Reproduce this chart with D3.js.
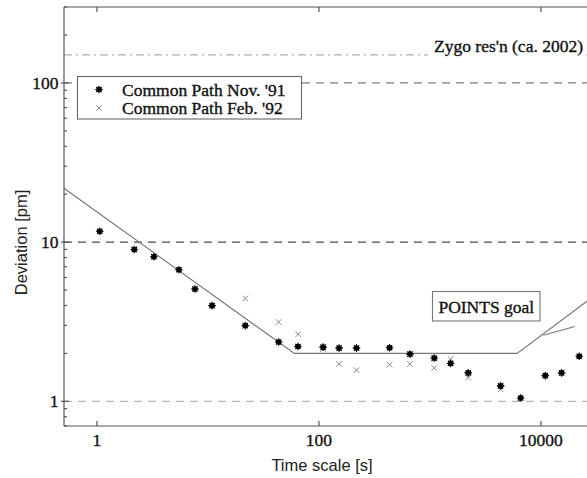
<!DOCTYPE html>
<html><head><meta charset="utf-8">
<script src="https://cdn.jsdelivr.net/npm/d3@7"></script>
<style>body{margin:0;background:#fff}svg{display:block}.sf{stroke:#111;stroke-width:0.35px}</style>
</head><body><svg id="c" width="587" height="478"></svg>
<script>
// Data
const tauNov = [1.06, 2.17, 3.26, 5.48, 7.64, 10.9, 21.7, 43.4, 64.7, 109, 152, 218, 433, 661, 1093, 1536, 2213, 4333, 6564, 10940, 15360, 22130];
const devNov = [11.7, 9.0, 8.1, 6.71, 5.08, 3.99, 2.99, 2.36, 2.21, 2.19, 2.16, 2.16, 2.17, 1.98, 1.87, 1.73, 1.51, 1.25, 1.05, 1.45, 1.51, 1.92];
const tauFeb = [21.7, 43.4, 65, 109, 152, 218, 433, 661, 1093, 1536, 2213, 4333];
const devFeb = [4.43, 3.15, 2.64, 2.13, 1.72, 1.57, 1.70, 1.72, 1.62, 1.84, 1.41, 1.19];
const goalTau = [0.5, 60, 6100, 30000];
const goalDev = [21.9, 2, 2, 4.58];
const branchTau = [10500, 20200];
const branchDev = [2.6, 2.95];
const refLevels = [100, 10, 1];
const zygoLevel = 150;
const xTicks = [1, 100, 10000];
const yTicks = [1, 10, 100];
const legendLabels = ["Common Path Nov. '91", "Common Path Feb. '92"];

const svg = d3.select("#c");
const L = 64, R = 587, T = 7, B = 426;
const x = d3.scaleLog().domain([0.505, 26000]).range([L, R]);
const y = d3.scaleLog().domain([0.70, 300]).range([B, T]);
const serif = "'Liberation Serif','Times New Roman',serif";
const sans = "'Liberation Sans',Arial,sans-serif";

svg.append("clipPath").attr("id","clip").append("rect").attr("x",L).attr("y",T).attr("width",R-L).attr("height",B-T);
const plot = svg.append("g").attr("clip-path","url(#clip)");

// reference dashed lines
const refColors = {100:"#808080",10:"#4a4a4a",1:"#b5b5b5"};
plot.selectAll("line.ref").data(refLevels).enter().append("line")
  .attr("x1",L).attr("x2",R).attr("y1",d=>y(d)).attr("y2",d=>y(d))
  .attr("stroke",d=>refColors[d]).attr("stroke-width",1.3).attr("stroke-dasharray","8,6");
plot.append("line").attr("x1",L).attr("x2",R).attr("y1",y(zygoLevel)).attr("y2",y(zygoLevel))
  .attr("stroke","#b0b0b0").attr("stroke-width",1.1).attr("stroke-dasharray","8,4,2,4");

// goal line
const line = d3.line().x(d=>x(d[0])).y(d=>y(d[1]));
plot.append("path").datum(goalTau.map((t,i)=>[t,goalDev[i]])).attr("d",line)
  .attr("fill","none").attr("stroke","#777").attr("stroke-width",1.1);
plot.append("path").datum(branchTau.map((t,i)=>[t,branchDev[i]])).attr("d",line)
  .attr("fill","none").attr("stroke","#777").attr("stroke-width",1.1);

// markers
function star(g, cx, cy){
  g.append("circle").attr("cx",cx).attr("cy",cy).attr("r",2.8).attr("fill","#000");
  const p = d3.path();
  for(let k=0;k<4;k++){const a=k*Math.PI/4;p.moveTo(cx-3.8*Math.cos(a),cy-3.8*Math.sin(a));p.lineTo(cx+3.8*Math.cos(a),cy+3.8*Math.sin(a));}
  g.append("path").attr("d",p.toString()).attr("stroke","#000").attr("stroke-width",1.1);
}
function cross(g, cx, cy){
  const p = d3.path();
  p.moveTo(cx-2.8,cy-2.8);p.lineTo(cx+2.8,cy+2.8);p.moveTo(cx-2.8,cy+2.8);p.lineTo(cx+2.8,cy-2.8);
  g.append("path").attr("d",p.toString()).attr("stroke","#888").attr("stroke-width",1).attr("fill","none");
}
const mk = plot.append("g");
tauFeb.forEach((t,i)=>cross(mk, x(t), y(devFeb[i])));
tauNov.forEach((t,i)=>star(mk, x(t), y(devNov[i])));

// Zygo label
svg.append("rect").attr("x",428).attr("y",38).attr("width",157).attr("height",18).attr("fill","#fff");
svg.append("text").attr("class","sf").attr("x",583).attr("y",52).attr("text-anchor","end")
  .attr("font-family",serif).attr("font-size",17.5).attr("fill","#111").text("Zygo res'n (ca. 2002)");

// POINTS goal box
svg.append("rect").attr("x",432.5).attr("y",291.5).attr("width",107.5).attr("height",29.5)
  .attr("fill","#fff").attr("stroke","#777").attr("stroke-width",1.1);
svg.append("text").attr("class","sf").attr("x",486.3).attr("y",313).attr("text-anchor","middle")
  .attr("font-family",serif).attr("font-size",17.5).attr("fill","#111").text("POINTS goal");

// Legend
svg.append("rect").attr("x",77.5).attr("y",76.5).attr("width",224).attr("height",42.5)
  .attr("fill","#fff").attr("stroke","#666").attr("stroke-width",1.1);
star(svg, 99, 89.5);
cross(svg, 99, 108);
svg.selectAll("text.leg").data(legendLabels).enter().append("text").attr("class","sf")
  .attr("x",122).attr("y",(d,i)=>95.5+i*18.5)
  .attr("font-family",serif).attr("font-size",17.5).attr("fill","#111").text(d=>d);

// Axes
const ax = svg.append("g").attr("stroke","#555").attr("stroke-width",1.2);
ax.append("line").attr("x1",L).attr("x2",L).attr("y1",T).attr("y2",B);
ax.append("line").attr("x1",L).attr("x2",R).attr("y1",B).attr("y2",B);
ax.append("line").attr("x1",L).attr("x2",R).attr("y1",T).attr("y2",T);
xTicks.forEach(t=>{
  ax.append("line").attr("x1",x(t)).attr("x2",x(t)).attr("y1",B).attr("y2",B-5);
  ax.append("line").attr("x1",x(t)).attr("x2",x(t)).attr("y1",T).attr("y2",T+5);
});
const yAll = y.ticks().filter(v=>v>=y.domain()[0] && v<=y.domain()[1]);
yAll.forEach(v=>{
  const major = yTicks.includes(v);
  ax.append("line").attr("x1",major?L-3:L).attr("x2",L+(major?5:3)).attr("y1",y(v)).attr("y2",y(v));
});
svg.selectAll("text.xt").data(xTicks).enter().append("text").attr("class","sf")
  .attr("x",d=>x(d)).attr("y",446).attr("text-anchor","middle")
  .attr("font-family",serif).attr("font-size",17.5).attr("fill","#111").text(d=>d);
svg.selectAll("text.yt").data(yTicks).enter().append("text").attr("class","sf")
  .attr("x",58.5).attr("y",d=>y(d)).attr("dy","0.35em").attr("text-anchor","end")
  .attr("font-family",serif).attr("font-size",17.5).attr("fill","#111").text(d=>d);

// axis titles
svg.append("text").attr("x",322).attr("y",471).attr("text-anchor","middle")
  .attr("font-family",sans).attr("font-size",16.5).attr("fill","#222").text("Time scale [s]");
svg.append("text").attr("transform","translate(27,242.5) rotate(-90)").attr("text-anchor","middle")
  .attr("font-family",sans).attr("font-size",16.5).attr("fill","#222").text("Deviation [pm]");
</script></body></html>
